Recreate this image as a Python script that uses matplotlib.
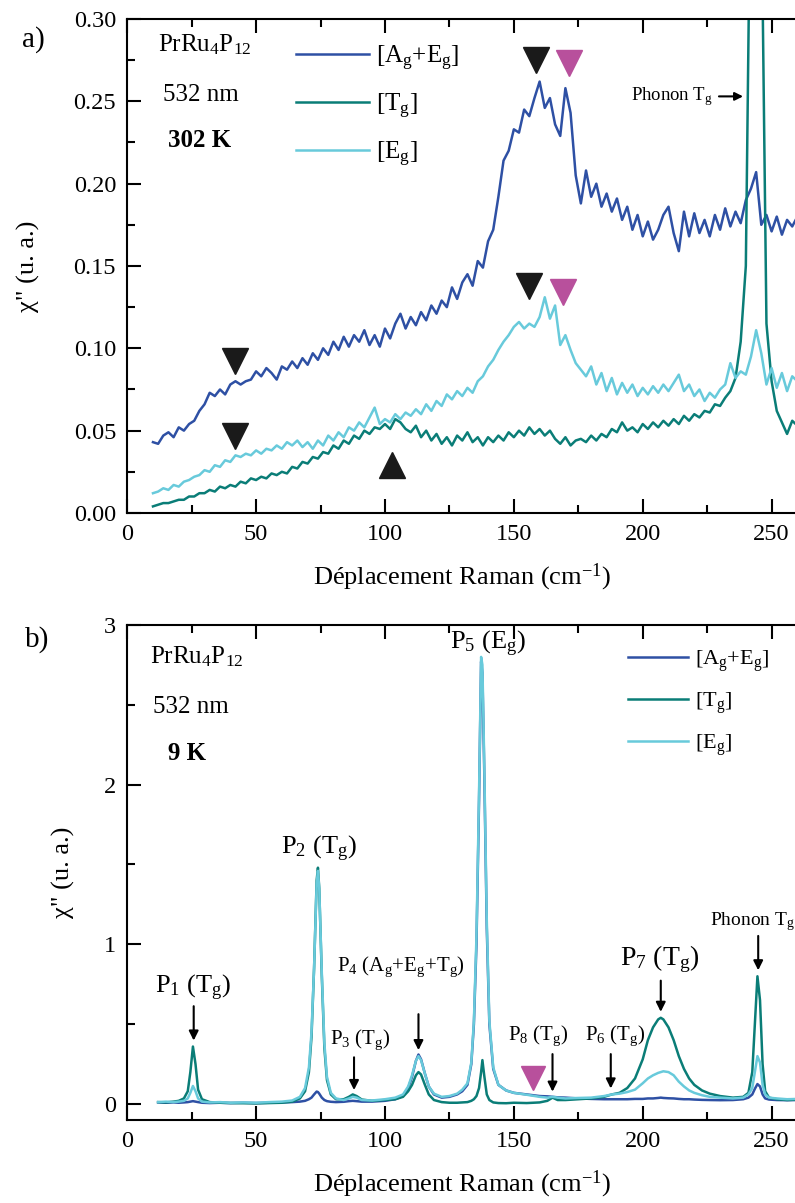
import numpy as np
import matplotlib
matplotlib.use("Agg")
import matplotlib.pyplot as plt
from matplotlib.ticker import MultipleLocator

plt.rcParams['font.family'] = ['Liberation Serif', 'DejaVu Serif']
plt.rcParams['mathtext.default'] = 'regular'

# -----------------------------------------------------------------------------
# Panel a) 302 K spectra (2 cm-1 steps)
# -----------------------------------------------------------------------------
raman_a = np.arange(10, 262, 2)

chi_AgEg_302 = [
    0.043, 0.042, 0.047, 0.049, 0.046, 0.052, 0.050, 0.054, 0.056, 0.062,
    0.066, 0.073, 0.071, 0.075, 0.072, 0.078, 0.080, 0.078, 0.080, 0.081,
    0.086, 0.083, 0.088, 0.085, 0.081, 0.089, 0.087, 0.092, 0.088, 0.094,
    0.090, 0.097, 0.093, 0.100, 0.096, 0.104, 0.099, 0.107, 0.101, 0.108,
    0.104, 0.111, 0.102, 0.108, 0.101, 0.112, 0.106, 0.115, 0.121, 0.112,
    0.119, 0.114, 0.122, 0.117, 0.126, 0.121, 0.129, 0.125, 0.137, 0.130,
    0.140, 0.145, 0.138, 0.153, 0.149, 0.165, 0.172, 0.192, 0.214, 0.220,
    0.233, 0.231, 0.245, 0.241, 0.252, 0.262, 0.246, 0.252, 0.236, 0.229,
    0.258, 0.243, 0.205, 0.188, 0.208, 0.192, 0.200, 0.186, 0.194, 0.183,
    0.191, 0.178, 0.186, 0.172, 0.181, 0.168, 0.177, 0.166, 0.172, 0.181,
    0.186, 0.170, 0.159, 0.183, 0.168, 0.182, 0.170, 0.178, 0.168, 0.181,
    0.172, 0.185, 0.174, 0.183, 0.176, 0.190, 0.197, 0.207, 0.175, 0.181,
    0.171, 0.180, 0.169, 0.178, 0.174, 0.180,
]

chi_Tg_302 = [
    0.004, 0.005, 0.006, 0.006, 0.007, 0.008, 0.008, 0.010, 0.010, 0.012,
    0.012, 0.014, 0.013, 0.016, 0.015, 0.017, 0.016, 0.019, 0.018, 0.021,
    0.020, 0.022, 0.021, 0.024, 0.023, 0.025, 0.024, 0.028, 0.027, 0.031,
    0.030, 0.034, 0.033, 0.037, 0.036, 0.041, 0.039, 0.044, 0.042, 0.047,
    0.045, 0.050, 0.048, 0.052, 0.051, 0.054, 0.051, 0.057, 0.055, 0.051,
    0.049, 0.053, 0.046, 0.050, 0.044, 0.048, 0.042, 0.046, 0.041, 0.047,
    0.044, 0.049, 0.043, 0.046, 0.041, 0.046, 0.043, 0.047, 0.044, 0.049,
    0.046, 0.050, 0.047, 0.052, 0.048, 0.051, 0.047, 0.050, 0.045, 0.042,
    0.046, 0.041, 0.044, 0.045, 0.043, 0.047, 0.044, 0.048, 0.046, 0.051,
    0.049, 0.055, 0.050, 0.052, 0.049, 0.054, 0.051, 0.055, 0.052, 0.056,
    0.053, 0.057, 0.054, 0.059, 0.056, 0.060, 0.058, 0.062, 0.061, 0.066,
    0.065, 0.070, 0.074, 0.082, 0.104, 0.150, 0.420, 0.560, 0.380, 0.115,
    0.080, 0.062, 0.055, 0.048, 0.056, 0.053,
]

chi_Eg_302 = [
    0.012, 0.013, 0.015, 0.014, 0.017, 0.016, 0.019, 0.020, 0.022, 0.023,
    0.026, 0.025, 0.029, 0.028, 0.032, 0.031, 0.035, 0.034, 0.036, 0.035,
    0.038, 0.036, 0.039, 0.038, 0.041, 0.039, 0.043, 0.041, 0.044, 0.040,
    0.043, 0.039, 0.044, 0.041, 0.047, 0.044, 0.049, 0.046, 0.052, 0.050,
    0.055, 0.052, 0.058, 0.064, 0.054, 0.057, 0.055, 0.060, 0.057, 0.061,
    0.059, 0.063, 0.060, 0.066, 0.062, 0.068, 0.065, 0.072, 0.069, 0.074,
    0.071, 0.076, 0.073, 0.080, 0.083, 0.089, 0.093, 0.099, 0.104, 0.108,
    0.113, 0.116, 0.112, 0.115, 0.113, 0.119, 0.131, 0.118, 0.126, 0.102,
    0.108, 0.099, 0.091, 0.087, 0.083, 0.089, 0.078, 0.085, 0.074, 0.082,
    0.072, 0.079, 0.073, 0.078, 0.071, 0.076, 0.072, 0.077, 0.073, 0.078,
    0.074, 0.079, 0.084, 0.074, 0.078, 0.071, 0.075, 0.068, 0.073, 0.070,
    0.075, 0.078, 0.091, 0.082, 0.086, 0.084, 0.095, 0.111, 0.097, 0.078,
    0.088, 0.076, 0.085, 0.074, 0.083, 0.080,
]

# -----------------------------------------------------------------------------
# Panel b) 9 K spectra
# -----------------------------------------------------------------------------
raman_b = [
    12, 15, 18, 20, 22, 23.5, 24.5, 25.5, 26.5, 27.5, 29, 32, 36, 40, 45, 50,
    55, 60, 64, 67, 69, 70.5, 71.5, 72.5, 73.5, 74, 74.5, 75.5, 76.5, 77.5,
    79, 81, 84, 86, 87.5, 89, 91, 95, 100, 104, 107, 109, 110.5, 112, 113,
    114, 115.5, 117, 119, 122, 125, 128, 130, 132, 133.5, 134.5, 135.5,
    136.5, 137.3, 137.8, 138.5, 139.5, 140.5, 142, 144, 147, 150, 155, 160,
    163, 165, 167, 170, 175, 180, 185, 188, 191, 194, 197, 200, 202, 204,
    206, 207, 208, 210, 212, 214, 216, 218, 220, 223, 226, 230, 235, 239,
    241, 242.5, 243.5, 244.5, 245.5, 246.5, 247.5, 249, 252, 256, 260,
]

chi_AgEg_9 = [
    0.010, 0.008, 0.010, 0.008, 0.010, 0.012, 0.015, 0.018, 0.015, 0.012,
    0.008, 0.006, 0.008, 0.006, 0.008, 0.006, 0.008, 0.010, 0.012, 0.015,
    0.020, 0.030, 0.040, 0.060, 0.078, 0.075, 0.065, 0.040, 0.025, 0.018,
    0.014, 0.012, 0.014, 0.018, 0.020, 0.018, 0.015, 0.015, 0.020, 0.030,
    0.050, 0.100, 0.170, 0.270, 0.310, 0.280, 0.190, 0.110, 0.060, 0.040,
    0.045, 0.060, 0.080, 0.120, 0.250, 0.500, 1.000, 1.900, 2.770, 2.700,
    2.100, 1.100, 0.500, 0.220, 0.120, 0.085, 0.070, 0.060, 0.050, 0.048,
    0.045, 0.042, 0.040, 0.035, 0.032, 0.030, 0.030, 0.030, 0.030, 0.032,
    0.032, 0.035, 0.035, 0.038, 0.040, 0.038, 0.036, 0.035, 0.032, 0.030,
    0.030, 0.028, 0.026, 0.025, 0.024, 0.025, 0.030, 0.040, 0.060, 0.095,
    0.125, 0.110, 0.060, 0.035, 0.028, 0.025, 0.024, 0.025,
]

chi_Tg_9 = [
    0.012, 0.010, 0.015, 0.020, 0.035, 0.080, 0.200, 0.360, 0.250, 0.090,
    0.030, 0.012, 0.008, 0.006, 0.005, 0.004, 0.006, 0.008, 0.015, 0.035,
    0.080, 0.200, 0.420, 0.850, 1.400, 1.480, 1.350, 0.800, 0.350, 0.150,
    0.060, 0.030, 0.030, 0.045, 0.060, 0.050, 0.028, 0.020, 0.025, 0.030,
    0.045, 0.080, 0.120, 0.180, 0.200, 0.185, 0.120, 0.060, 0.025, 0.012,
    0.008, 0.008, 0.010, 0.012, 0.020, 0.030, 0.050, 0.100, 0.200, 0.275,
    0.180, 0.060, 0.025, 0.010, 0.006, 0.005, 0.008, 0.006, 0.010, 0.020,
    0.040, 0.025, 0.025, 0.030, 0.035, 0.045, 0.060, 0.070, 0.100, 0.160,
    0.280, 0.400, 0.480, 0.530, 0.540, 0.530, 0.480, 0.400, 0.300, 0.220,
    0.160, 0.120, 0.085, 0.065, 0.050, 0.040, 0.045, 0.070, 0.200, 0.500,
    0.800, 0.650, 0.250, 0.080, 0.040, 0.030, 0.025, 0.028,
]

chi_Eg_9 = [
    0.012, 0.015, 0.012, 0.015, 0.020, 0.035, 0.070, 0.113, 0.080, 0.035,
    0.015, 0.010, 0.012, 0.008, 0.010, 0.008, 0.012, 0.015, 0.022, 0.045,
    0.100, 0.230, 0.450, 0.850, 1.380, 1.460, 1.350, 0.820, 0.380, 0.170,
    0.070, 0.035, 0.025, 0.035, 0.045, 0.040, 0.025, 0.022, 0.030, 0.040,
    0.060, 0.110, 0.180, 0.270, 0.300, 0.275, 0.190, 0.110, 0.065, 0.045,
    0.050, 0.065, 0.090, 0.130, 0.260, 0.520, 1.050, 1.950, 2.800, 2.750,
    2.150, 1.150, 0.520, 0.230, 0.120, 0.085, 0.070, 0.058, 0.045, 0.040,
    0.045, 0.040, 0.035, 0.038, 0.040, 0.050, 0.060, 0.065, 0.075, 0.090,
    0.130, 0.160, 0.180, 0.195, 0.200, 0.205, 0.200, 0.180, 0.140, 0.110,
    0.085, 0.070, 0.055, 0.045, 0.040, 0.035, 0.040, 0.060, 0.100, 0.200,
    0.300, 0.260, 0.120, 0.060, 0.040, 0.035, 0.030, 0.032,
]

labels = ['[A$_g$+E$_g$]', '[T$_g$]', '[E$_g$]']
colors = ['#2E50A4', '#0A7D77', '#68CADB']
pink = '#B8509C'

fig = plt.figure(figsize=(7.95, 12.03), dpi=100)
ax_a = fig.add_axes([0.16, 0.5736, 0.843, 0.4106])
ax_b = fig.add_axes([0.16, 0.069, 0.843, 0.4115])


def style_axes(ax, ymajor, yminor):
    ax.spines['right'].set_visible(False)
    for s in ['left', 'bottom', 'top']:
        ax.spines[s].set_linewidth(1.5)
    ax.xaxis.set_major_locator(MultipleLocator(50))
    ax.xaxis.set_minor_locator(MultipleLocator(25))
    ax.yaxis.set_major_locator(MultipleLocator(ymajor))
    ax.yaxis.set_minor_locator(MultipleLocator(yminor))
    ax.tick_params(which='both', direction='in', top=True, right=False,
                   width=1.5, labelsize=17.5, pad=8)
    ax.tick_params(which='major', length=10)
    ax.tick_params(which='minor', length=6)
    ax.set_xlabel('Déplacement Raman (cm$^{-1}$)', fontsize=19, labelpad=12)


# ---------------- panel a ----------------
for y, lab, c in zip([chi_AgEg_302, chi_Tg_302, chi_Eg_302], labels, colors):
    ax_a.plot(raman_a, y, color=c, lw=1.8, label=lab)
ax_a.set_xlim(0, 260)
ax_a.set_ylim(0, 0.30)
style_axes(ax_a, 0.05, 0.025)
ax_a.yaxis.set_major_formatter(matplotlib.ticker.FormatStrFormatter('%.2f'))
ax_a.set_ylabel('χ" (u. a.)', fontsize=19, labelpad=24)

ax_a.legend(loc='upper left', bbox_to_anchor=(0.252, 0.95), frameon=False,
            fontsize=18, handlelength=2.9, handletextpad=0.3, labelspacing=0.75,
            borderpad=0, borderaxespad=0)

ax_a.text(0.046, 0.947, 'PrRu$_4$P$_{12}$', transform=ax_a.transAxes,
          fontsize=18, va='center')
ax_a.text(0.054, 0.846, '532 nm', transform=ax_a.transAxes, fontsize=18, va='center')
ax_a.text(0.061, 0.755, '302 K', transform=ax_a.transAxes, fontsize=18,
          va='center', fontweight='bold')

tri_ms = 19
ax_a.plot([158.5, 155.8, 42, 42], [0.275, 0.138, 0.092, 0.0465], 'v',
          color='#1a1a1a', ms=tri_ms, clip_on=False)
ax_a.plot([171.3, 169], [0.273, 0.134], 'v', color=pink, ms=tri_ms)
ax_a.plot([102.8], [0.029], '^', color='#1a1a1a', ms=tri_ms)

ax_a.annotate('', xy=(240, 0.253), xytext=(228.5, 0.253),
              arrowprops=dict(arrowstyle='-|>', color='k', lw=1.5, mutation_scale=12))
ax_a.text(195.5, 0.253, 'Phonon T$_g$', fontsize=13.5, va='center')

# ---------------- panel b ----------------
for y, lab, c in zip([chi_AgEg_9, chi_Tg_9, chi_Eg_9], labels, colors):
    ax_b.plot(raman_b, y, color=c, lw=1.8, label=lab)
ax_b.set_xlim(0, 260)
ax_b.set_ylim(-0.1, 3)
style_axes(ax_b, 1, 0.5)
ax_b.set_ylabel('χ" (u. a.)', fontsize=19, labelpad=21)

ax_b.legend(loc='upper left', bbox_to_anchor=(0.748, 0.953), frameon=False,
            fontsize=16, handlelength=2.7, handletextpad=0.3, labelspacing=0.75,
            borderpad=0, borderaxespad=0)

ax_b.text(0.034, 0.935, 'PrRu$_4$P$_{12}$', transform=ax_b.transAxes,
          fontsize=18, va='center')
ax_b.text(0.039, 0.834, '532 nm', transform=ax_b.transAxes, fontsize=18, va='center')
ax_b.text(0.061, 0.741, '9 K', transform=ax_b.transAxes, fontsize=18,
          va='center', fontweight='bold')

peak_labels = [
    ('P$_1$ (T$_g$)', 25.5, 0.73, 19),
    ('P$_2$ (T$_g$)', 74.5, 1.60, 19),
    ('P$_3$ (T$_g$)', 90.5, 0.40, 15),
    ('P$_4$ (A$_g$+E$_g$+T$_g$)', 106, 0.86, 15),
    ('P$_5$ (E$_g$)', 140, 2.88, 19),
    ('P$_8$ (T$_g$)', 159.5, 0.43, 15),
    ('P$_6$ (T$_g$)', 189.5, 0.43, 15),
    ('P$_7$ (T$_g$)', 206.5, 0.91, 20),
    ('Phonon T$_g$', 242.5, 1.14, 14),
]
for txt, x, y, fs in peak_labels:
    ax_b.text(x, y, txt, fontsize=fs, ha='center', va='center')

arrows_b = [
    (25.8, 0.63, 0.38),
    (88, 0.31, 0.07),
    (113, 0.58, 0.32),
    (165, 0.33, 0.06),
    (187.6, 0.33, 0.08),
    (207, 0.79, 0.56),
    (244.8, 1.07, 0.82),
]
for x, y0, y1 in arrows_b:
    ax_b.annotate('', xy=(x, y1), xytext=(x, y0),
                  arrowprops=dict(arrowstyle='-|>', color='k', lw=1.5,
                                  mutation_scale=14))

ax_b.plot([157.3], [0.16], 'v', color=pink, ms=17)

fig.text(0.028, 0.967, 'a)', fontsize=21, va='center')
fig.text(0.031, 0.468, 'b)', fontsize=21, va='center')

fig.savefig('out.png', dpi=100)
